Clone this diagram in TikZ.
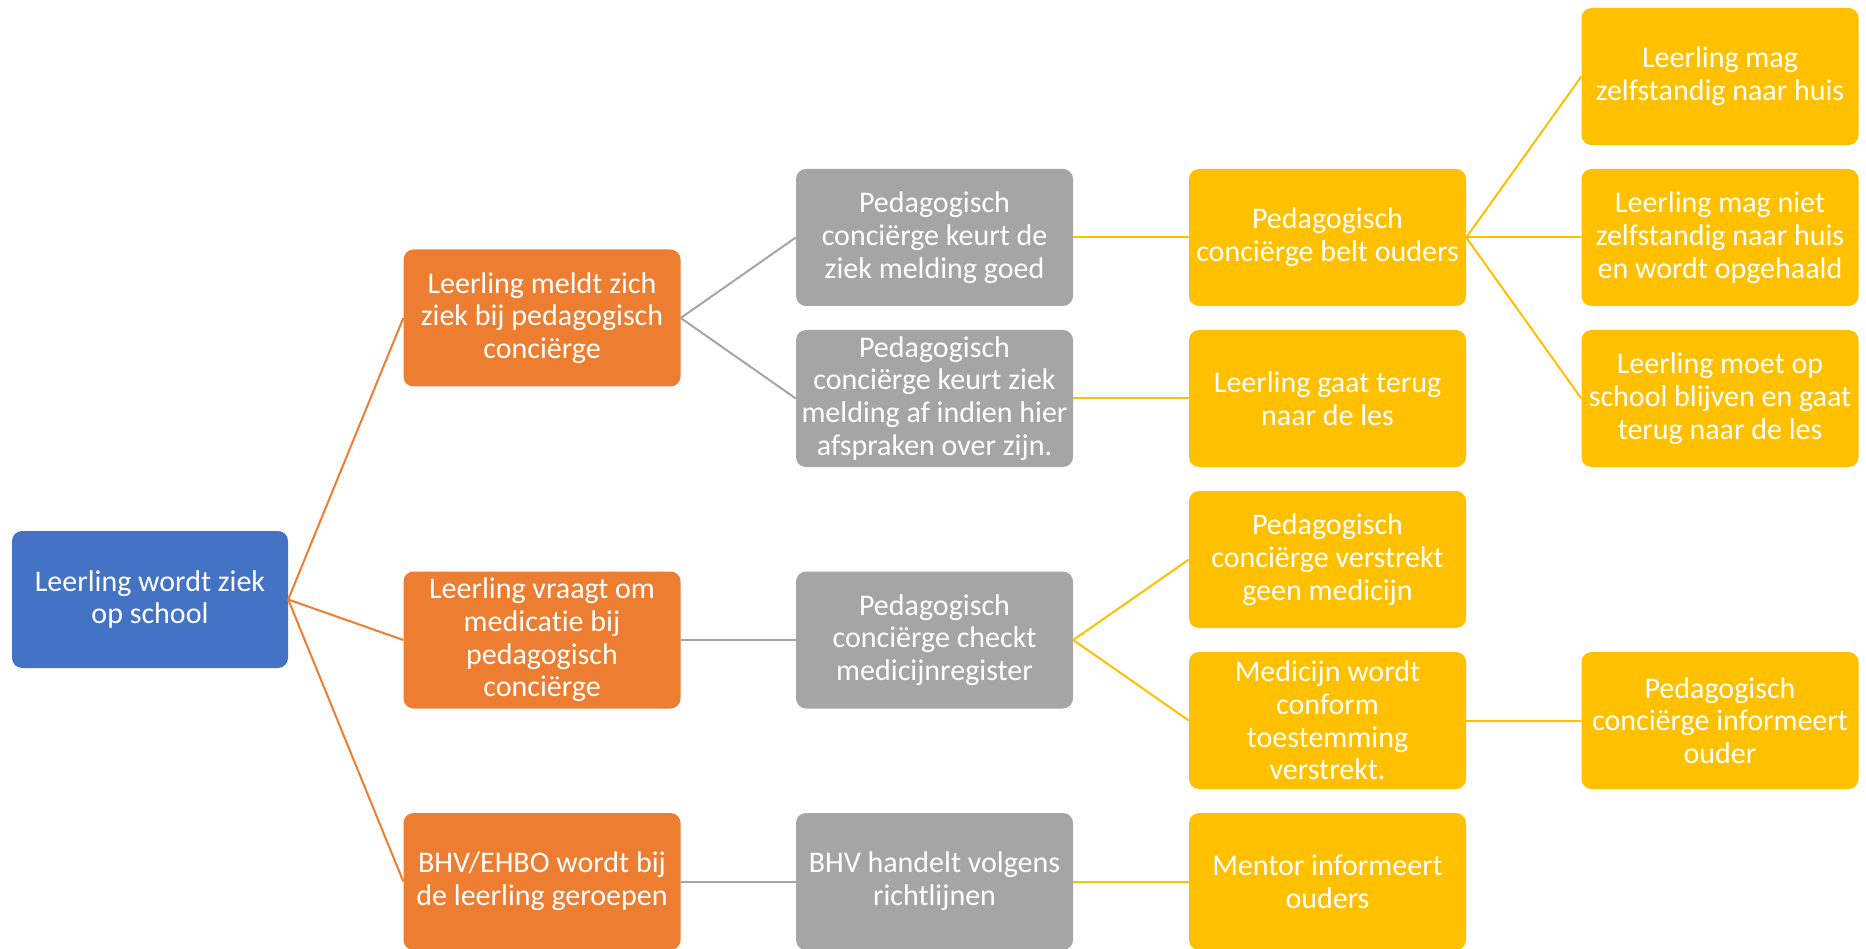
\documentclass[tikz,border=0pt]{standalone}
\usepackage{fontspec}
\setmainfont{Carlito}[Ligatures=NoCommon]
\usepackage{tikz}

\definecolor{blauw}{HTML}{4472C4}
\definecolor{oranje}{HTML}{ED7D31}
\definecolor{grijs}{HTML}{A5A5A5}
\definecolor{geel}{HTML}{FFC000}

\begin{document}
\begin{tikzpicture}[x=1pt, y=-1pt,
	blok/.style = {rounded corners=10pt, minimum width=277pt, minimum height=137pt,
		inner sep=0pt, align=center, text=white, font=\fontsize{30}{32.7}\selectfont},
	lijn/.style = {line width=2pt}]
	\useasboundingbox (0,0) rectangle (1866,949);
	% kolom 1 en 2
	\node [blok, fill=blauw, minimum width=276pt] (ziek) at (150,599.5) {Leerling wordt ziek\\op school};
	\node [blok, fill=oranje] (meldt) at (542,318) {Leerling meldt zich\\ziek bij pedagogisch\\conciërge};
	\node [blok, fill=oranje] (vraagt) at (542,640) {Leerling vraagt om\\medicatie bij\\pedagogisch\\conciërge};
	\node [blok, fill=oranje] (ehbo) at (542,881.5) {BHV/EHBO wordt bij\\de leerling geroepen};
	% kolom 3
	\node [blok, fill=grijs] (goed) at (934.5,237.5) {Pedagogisch\\conciërge keurt de\\ziek melding goed};
	\node [blok, fill=grijs] (af) at (934.5,398.5) {Pedagogisch\\conciërge keurt ziek\\melding af indien hier\\afspraken over zijn.};
	\node [blok, fill=grijs] (register) at (934.5,640) {Pedagogisch\\conciërge checkt\\medicijnregister};
	\node [blok, fill=grijs] (handelt) at (934.5,881.5) {BHV handelt volgens\\richtlijnen};
	% kolom 4
	\node [blok, fill=geel] (belt) at (1327.5,237.5) {Pedagogisch\\conciërge belt ouders};
	\node [blok, fill=geel] (terug) at (1327.5,398.5) {Leerling gaat terug\\naar de les};
	\node [blok, fill=geel] (geen) at (1327.5,559.5) {Pedagogisch\\conciërge verstrekt\\geen medicijn};
	\node [blok, fill=geel] (conform) at (1327.5,720.5) {Medicijn wordt\\conform\\toestemming\\verstrekt.};
	\node [blok, fill=geel] (mentor) at (1327.5,881.5) {Mentor informeert\\ouders};
	% kolom 5
	\node [blok, fill=geel] (mag) at (1720,76.5) {Leerling mag\\zelfstandig naar huis};
	\node [blok, fill=geel] (magniet) at (1720,237.5) {Leerling mag niet\\zelfstandig naar huis\\en wordt opgehaald};
	\node [blok, fill=geel] (blijven) at (1720,398.5) {Leerling moet op\\school blijven en gaat\\terug naar de les};
	\node [blok, fill=geel] (ouder) at (1720,720.5) {Pedagogisch\\conciërge informeert\\ouder};
	% lijnen
	\foreach \n in {meldt,vraagt,ehbo}
		\draw [lijn, oranje] (ziek.east) -- (\n.west);
	\foreach \a/\b in {meldt/goed, meldt/af, vraagt/register, ehbo/handelt}
		\draw [lijn, grijs] (\a.east) -- (\b.west);
	\foreach \a/\b in {goed/belt, af/terug, register/geen, register/conform, handelt/mentor,
		belt/mag, belt/magniet, belt/blijven, conform/ouder}
		\draw [lijn, geel] (\a.east) -- (\b.west);
\end{tikzpicture}
\end{document}
